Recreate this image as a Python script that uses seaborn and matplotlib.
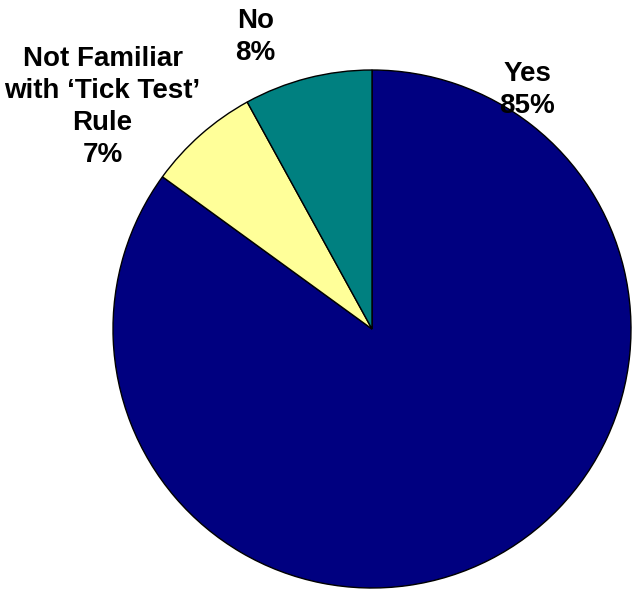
import matplotlib
matplotlib.use("Agg")
import matplotlib.pyplot as plt
import seaborn as sns

sns.set_style("white")
plt.rcParams['font.family'] = ['Liberation Sans', 'DejaVu Sans']
plt.rcParams['text.color'] = 'black'

categories = ["Yes", "Not Familiar\nwith \u2018Tick Test\u2019\nRule", "No"]
values = [85, 7, 8]
colors = ["#000080", "#FFFF99", "#008080"]
label_pos = [(0.60, 0.923), (-1.04, 0.857), (-0.45, 1.127)]

W, H = 634, 599
fig = plt.figure(figsize=(W / 100, H / 100), dpi=100)
cx, cy, r = 372, 329, 259
ax = fig.add_axes([(cx - r) / W, (H - cy - r) / H, 2 * r / W, 2 * r / H])
ax.pie(values, colors=colors, startangle=90, counterclock=False, radius=1,
       wedgeprops=dict(edgecolor="black", linewidth=1.0))
ax.set_xlim(-1, 1)
ax.set_ylim(-1, 1)
ax.set_aspect("equal")
ax.axis("off")

for cat, v, (x, y) in zip(categories, values, label_pos):
    ax.text(x, y, f"{cat}\n{v}%", ha="center", va="center", fontsize=20,
            fontweight="bold", linespacing=1.3, color="black", clip_on=False)

fig.savefig("out.png", dpi=100)
